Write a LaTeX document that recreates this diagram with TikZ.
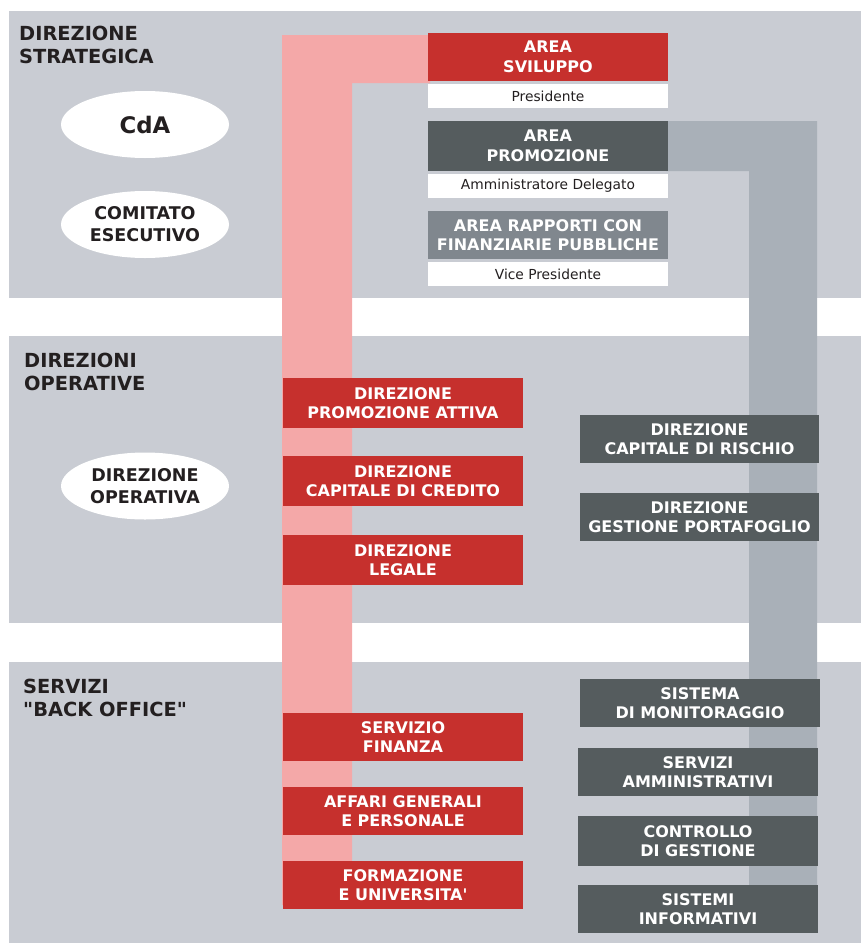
\documentclass[tikz,border=0pt]{standalone}
\usepackage{fontspec}
\setmainfont{DejaVu Sans}[Ligatures=TeXOff]
\usetikzlibrary{shapes.geometric}
\definecolor{bandgray}{HTML}{C9CCD3}
\definecolor{pinkbar}{HTML}{F4A8A8}
\definecolor{redbox}{HTML}{C6302D}
\definecolor{darkbox}{HTML}{555C5E}
\definecolor{midbox}{HTML}{80878E}
\definecolor{graybar}{HTML}{A9B0B8}
\definecolor{ink}{HTML}{231F20}
\tikzset{
  boxbase/.style={rectangle, inner sep=0pt, text=white, align=center,
    font=\bfseries\fontsize{16}{19.5}\selectfont},
  redb/.style={boxbase, fill=redbox, minimum width=240pt, minimum height=48pt},
  darkb/.style={boxbase, fill=darkbox, minimum width=240pt, minimum height=48pt},
  midb/.style={boxbase, fill=midbox, minimum width=240pt, minimum height=48pt},
  whiteb/.style={rectangle, inner sep=0pt, fill=white, text=ink, minimum width=240pt,
    minimum height=24pt, font=\fontsize{13.8}{15}\selectfont},
  oval/.style={ellipse, fill=white, inner sep=0pt, minimum width=168pt, minimum height=67pt,
    text=ink, align=center, font=\bfseries\fontsize{17.5}{22}\selectfont},
  seclabel/.style={anchor=north west, inner sep=0pt, text=ink, align=left,
    font=\bfseries\fontsize{19.4}{23}\selectfont},
}
\begin{document}
\begin{tikzpicture}[x=1pt,y=-1pt]
\useasboundingbox (0,0) rectangle (861,943);
% bands
\fill[bandgray] (9,11) rectangle (861,298);
\fill[bandgray] (9,336) rectangle (861,623);
\fill[bandgray] (9,662) rectangle (861,943);
% pink L bar
\fill[pinkbar] (282,35) -- (430,35) -- (430,83) -- (352,83) -- (352,905) -- (282,905) -- cycle;
% gray L bar
\fill[graybar] (666,121) -- (817,121) -- (817,885) -- (749,885) -- (749,171) -- (666,171) -- cycle;
% section labels
\node[seclabel] (l1) at (19,26) {DIREZIONE\\STRATEGICA};
\node[seclabel] (l2) at (24,353) {DIREZIONI\\OPERATIVE};
\node[seclabel] (l3) at (23,679) {SERVIZI\\"BACK OFFICE"};
% ovals
\node[oval, font=\bfseries\fontsize{22.8}{22}\selectfont] (cda) at (145,124.5) {CdA};
\node[oval] (ce) at (145,224.5) {COMITATO\\ESECUTIVO};
\node[oval] (dop) at (145,486) {DIREZIONE\\OPERATIVA};
% top boxes
\node[redb] (svil) at (548,57) {AREA\\SVILUPPO};
\node[whiteb] (pres) at (548,96) {Presidente};
\node[darkb, minimum height=50pt] (promo) at (548,146) {AREA\\PROMOZIONE};
\node[whiteb] (ad) at (548,186) {Amministratore Delegato};
\node[midb] (rapp) at (548,235) {AREA RAPPORTI CON\\FINANZIARIE PUBBLICHE};
\node[whiteb] (vp) at (548,274) {Vice Presidente};
% red boxes
\node[redb, minimum height=50pt] (dpa) at (403,403) {DIREZIONE\\PROMOZIONE ATTIVA};
\node[redb, minimum height=50pt] (dcc) at (403,481) {DIREZIONE\\CAPITALE DI CREDITO};
\node[redb, minimum height=50pt] (dleg) at (403,560) {DIREZIONE\\LEGALE};
\node[redb] (sfin) at (403,737) {SERVIZIO\\FINANZA};
\node[redb] (aff) at (403,811) {AFFARI GENERALI\\E PERSONALE};
\node[redb] (form) at (403,885) {FORMAZIONE\\E UNIVERSITA'};
% dark boxes
\node[darkb, minimum width=239pt] (dcr) at (699.5,439) {DIREZIONE\\CAPITALE DI RISCHIO};
\node[darkb, minimum width=239pt] (dgp) at (699.5,517) {DIREZIONE\\GESTIONE PORTAFOGLIO};
\node[darkb] (sdm) at (700,703) {SISTEMA\\DI MONITORAGGIO};
\node[darkb] (sa) at (698,772) {SERVIZI\\AMMINISTRATIVI};
\node[darkb, minimum height=50pt] (cdg) at (698,841) {CONTROLLO\\DI GESTIONE};
\node[darkb] (si) at (698,909) {SISTEMI\\INFORMATIVI};
\end{tikzpicture}
\end{document}
